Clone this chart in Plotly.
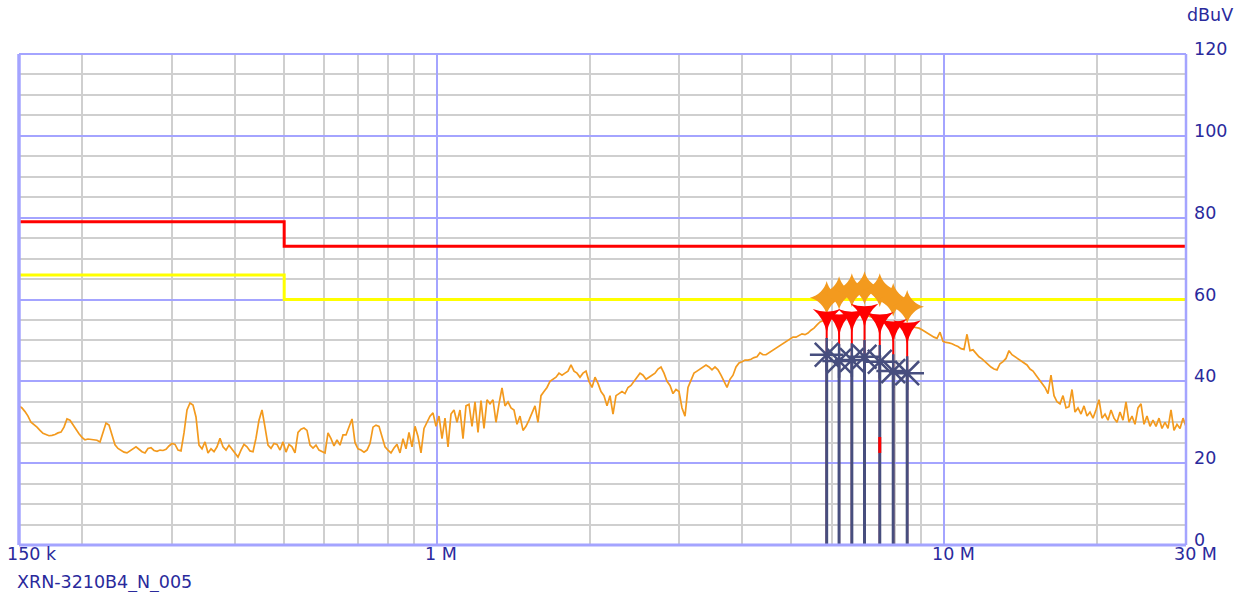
import numpy as np
import plotly.graph_objects as go

# ---- scan data (conducted emission, neutral line) ----
F_START_MHZ = 0.15
F_STOP_MHZ = 30.0

level_dbuv = [
    34.0, 33.5, 32.6, 31.5, 30.0, 29.5, 28.8, 28.0, 27.3, 27.0,
    26.7, 26.8, 27.0, 27.4, 27.6, 28.8, 30.8, 30.5, 29.3, 28.3,
    27.2, 26.3, 25.7, 25.9, 25.8, 25.7, 25.6, 25.2, 27.5, 29.8,
    29.3, 27.0, 24.5, 23.6, 23.1, 22.7, 22.5, 23.0, 23.4, 24.0,
    23.4, 22.8, 22.5, 23.6, 23.8, 23.1, 22.9, 23.2, 23.1, 23.4,
    24.2, 24.8, 24.6, 23.2, 23.0, 27.4, 33.0, 34.7, 34.2, 31.3,
    24.4, 23.5, 25.2, 22.5, 23.5, 22.8, 24.0, 26.1, 24.0, 23.2,
    24.4, 23.5, 22.5, 21.5, 23.2, 24.6, 24.0, 23.0, 22.8, 26.1,
    30.5, 33.0, 28.8, 24.4, 23.6, 24.8, 24.6, 23.2, 25.2, 22.7,
    24.6, 24.0, 22.5, 27.5, 28.3, 28.6, 28.0, 24.4, 23.7, 24.4,
    23.2, 22.8, 22.5, 27.4, 26.0, 24.2, 25.7, 24.4, 26.9, 26.9,
    28.8, 30.8, 25.0, 23.5, 23.2, 22.7, 23.2, 24.8, 28.8, 29.3,
    29.0, 26.5, 24.0, 23.2, 22.5, 23.7, 24.6, 22.5, 26.0, 23.5,
    27.5, 24.0, 29.0, 26.5, 22.5, 28.5, 30.0, 31.5, 32.3, 29.0,
    31.5, 26.0, 31.0, 24.0, 32.0, 33.0, 30.0, 33.0, 26.0, 34.0,
    34.4, 29.0, 35.0, 27.5, 35.3, 28.5, 35.5, 34.5, 35.5, 30.0,
    34.5, 38.4, 34.0, 35.0, 33.5, 33.0, 29.5, 31.5, 28.0, 29.0,
    30.5, 32.5, 34.0, 30.0, 36.5, 37.5, 38.5, 40.0, 40.5, 41.0,
    42.0, 41.5, 42.0, 42.5, 44.0, 42.5, 42.0, 41.0, 42.0, 42.5,
    40.0, 38.5, 41.0, 39.5, 37.5, 36.5, 34.0, 36.5, 32.0, 36.5,
    37.0, 37.5, 37.0, 38.5, 39.0, 40.0, 41.0, 42.0, 41.5, 40.5,
    41.0, 41.5, 42.0, 43.0, 43.5, 42.0, 40.0, 39.0, 37.0, 38.0,
    37.5, 33.5, 31.5, 38.5, 40.5, 42.0, 42.5, 43.0, 43.5, 44.0,
    43.5, 42.8, 43.5, 42.8, 41.5, 40.0, 38.5, 40.5, 41.5, 43.5,
    44.5, 44.8, 45.2, 45.2, 45.4, 45.8, 46.0, 47.0, 46.5, 46.5,
    47.0, 47.5, 48.0, 48.5, 49.0, 49.5, 50.0, 50.5, 50.8, 50.8,
    51.2, 51.6, 51.4, 51.8, 52.5, 53.0, 53.8, 54.5, 54.8, 55.0,
    55.2, 55.4, 55.5, 55.6, 55.8, 56.0, 56.0, 56.2, 56.2, 56.3,
    56.3, 56.2, 56.2, 56.0, 55.8, 55.6, 55.3, 55.0, 54.8, 54.6,
    54.4, 54.2, 54.0, 53.8, 53.8, 53.6, 53.5, 53.4, 53.3, 53.1,
    53.0, 52.6, 52.1, 51.6, 51.2, 50.8, 50.5, 52.0, 49.8, 49.5,
    49.4, 49.2, 48.8, 48.5, 48.0, 47.8, 51.5, 47.5, 47.7, 46.8,
    46.0, 45.5, 44.8, 44.0, 43.5, 43.0, 42.8, 44.3, 44.8, 45.6,
    47.5, 46.5, 46.0, 45.5, 45.0, 44.5, 44.0, 43.0, 42.5, 41.5,
    40.5, 39.5, 38.5, 37.0, 41.5, 36.5, 35.0, 34.5, 36.5, 33.5,
    33.8, 38.0, 32.5, 33.5, 32.0, 34.0, 31.5, 32.5, 31.0, 33.0,
    35.5, 31.0, 32.0, 30.5, 33.0, 31.0, 30.0, 32.5, 30.5, 35.0,
    30.0, 31.5, 29.5, 33.5, 34.5, 29.5, 31.5, 29.0, 30.5, 29.0,
    31.0, 28.5, 30.0, 28.5, 33.0, 28.0, 29.5, 28.5, 31.0, 29.0,
]
freq_mhz = np.geomspace(F_START_MHZ, F_STOP_MHZ, len(level_dbuv))

# ---- limit lines (CISPR 22 class B, QP / AV) ----
limit_freq_mhz = [0.15, 0.5, 30.0]
qp_limit_dbuv = [79.0, 73.0, 73.0]
av_limit_dbuv = [66.0, 60.0, 60.0]

# ---- final measurement points ----
mark_freq_mhz = [5.87, 6.21, 6.58, 6.97, 7.47, 7.94, 8.46]
pk_dbuv = [60.4, 61.6, 62.3, 62.8, 62.3, 59.9, 58.2]
qp_dbuv = [55.7, 55.0, 55.7, 57.0, 55.0, 53.3, 53.0]
av_dbuv = [46.5, 45.0, 45.2, 46.0, 44.8, 42.5, 42.0]
extra_qp_freq_mhz = 7.47
extra_qp_span_dbuv = [22.5, 26.4]

# ---- axis labels ----
x_tick_vals = [0.15, 1.0, 10.0, 30.0]
x_tick_text = ["150 k", "1 M", "10 M", "30 M"]
y_tick_vals = [0, 20, 40, 60, 80, 100, 120]
y_tick_text = ["0", "20", "40", "60", "80", "100", "120"]
x_minor_vals = [0.2, 0.3, 0.4, 0.5, 0.6, 0.7, 0.8, 0.9,
                2, 3, 4, 5, 6, 7, 8, 9, 20]
unit_text = "dBuV"
file_text = "XRN-3210B4_N_005"

TEXT_COLOR = "#2a2a9c"
FONT = "DejaVu Sans"
FSIZE = 17.5
FRAME = "#a4a4ff"
GRID_GRAY = "#cfcfcf"
ORANGE = "#f39a1e"
NAVY = "#474e7e"


def stems(xs, tops, bottom=0.0):
    sx, sy = [], []
    for x, t in zip(xs, tops):
        sx += [x, x, None]
        sy += [bottom, t, None]
    return sx, sy


fig = go.Figure()

fig.add_trace(go.Scatter(
    x=freq_mhz, y=level_dbuv, mode="lines",
    line=dict(color=ORANGE, width=1.7),
))
fig.add_trace(go.Scatter(
    x=limit_freq_mhz, y=qp_limit_dbuv, mode="lines",
    line=dict(color="#ff0000", width=3, shape="hv"),
))
fig.add_trace(go.Scatter(
    x=limit_freq_mhz, y=av_limit_dbuv, mode="lines",
    line=dict(color="#ffff00", width=3, shape="hv"),
))

qx, qy = stems(mark_freq_mhz, qp_dbuv)
fig.add_trace(go.Scatter(x=qx, y=qy, mode="lines",
                         line=dict(color="#ff0000", width=2)))
ax_, ay_ = stems(mark_freq_mhz, av_dbuv)
fig.add_trace(go.Scatter(x=ax_, y=ay_, mode="lines",
                         line=dict(color=NAVY, width=3)))
fig.add_trace(go.Scatter(
    x=[extra_qp_freq_mhz, extra_qp_freq_mhz], y=extra_qp_span_dbuv,
    mode="lines", line=dict(color="#ff0000", width=3)))

fig.add_trace(go.Scatter(
    x=mark_freq_mhz, y=av_dbuv, mode="markers",
    marker=dict(symbol="asterisk-open", size=28, color=NAVY,
                line=dict(color=NAVY, width=2.5)),
))
fig.add_trace(go.Scatter(
    x=mark_freq_mhz, y=pk_dbuv, mode="markers",
    marker=dict(symbol="star-diamond", size=24, color=ORANGE,
                line=dict(width=0)),
))
fig.add_trace(go.Scatter(
    x=mark_freq_mhz, y=qp_dbuv, mode="markers",
    marker=dict(symbol="star-triangle-down", size=20, color="#ff0000",
                line=dict(width=0)),
))

annotations = []
for v, t in zip(x_tick_vals, x_tick_text):
    annotations.append(dict(
        x=np.log10(v), xref="x", y=0, yref="paper", text=t,
        showarrow=False, xanchor="left", yanchor="top",
        xshift=-14, yshift=3,
        font=dict(family=FONT, size=FSIZE, color=TEXT_COLOR)))
for v, t in zip(y_tick_vals, y_tick_text):
    annotations.append(dict(
        x=1, xref="paper", y=v, yref="y", text=t,
        showarrow=False, xanchor="left", yanchor="middle",
        xshift=6, yshift=5,
        font=dict(family=FONT, size=FSIZE, color=TEXT_COLOR)))
annotations.append(dict(
    x=1, xref="paper", y=1, yref="paper", text=unit_text,
    showarrow=False, xanchor="left", yanchor="middle",
    xshift=-1, yshift=39,
    font=dict(family=FONT, size=FSIZE, color=TEXT_COLOR)))
annotations.append(dict(
    x=0, xref="paper", y=0, yref="paper", text=file_text,
    showarrow=False, xanchor="left", yanchor="middle",
    xshift=-4, yshift=-37,
    font=dict(family=FONT, size=FSIZE, color=TEXT_COLOR)))

frame = [
    dict(type="line", xref="paper", yref="paper", x0=0, x1=1, y0=1, y1=1,
         line=dict(color=FRAME, width=2)),
    dict(type="line", xref="paper", yref="paper", x0=0, x1=1, y0=0, y1=0,
         line=dict(color=FRAME, width=3)),
    dict(type="line", xref="paper", yref="paper", x0=0, x1=0, y0=0, y1=1,
         line=dict(color=FRAME, width=3.5)),
    dict(type="line", xref="paper", yref="paper", x0=1, x1=1, y0=0, y1=1,
         line=dict(color=FRAME, width=2.5)),
]

fig.update_layout(
    width=1247, height=592,
    margin=dict(l=19, r=61, t=54, b=47),
    paper_bgcolor="white", plot_bgcolor="white",
    showlegend=False,
    annotations=annotations,
    shapes=frame,
    xaxis=dict(
        type="log",
        range=[np.log10(F_START_MHZ), np.log10(F_STOP_MHZ)],
        tickmode="array", tickvals=[1, 10], showticklabels=False,
        ticks="", showgrid=True, gridcolor=FRAME, gridwidth=1.5,
        zeroline=False, showline=False,
        minor=dict(tickmode="array", tickvals=x_minor_vals, showgrid=True,
                   gridcolor=GRID_GRAY, gridwidth=2, ticks=""),
    ),
    yaxis=dict(
        range=[0, 120], tickmode="linear", tick0=0, dtick=20,
        showticklabels=False, ticks="", showgrid=True,
        gridcolor=FRAME, gridwidth=1.5, zeroline=False, showline=False,
        minor=dict(tickmode="linear", tick0=0, dtick=5, showgrid=True,
                   gridcolor=GRID_GRAY, gridwidth=2, ticks=""),
    ),
)

fig.write_html("out.html")
